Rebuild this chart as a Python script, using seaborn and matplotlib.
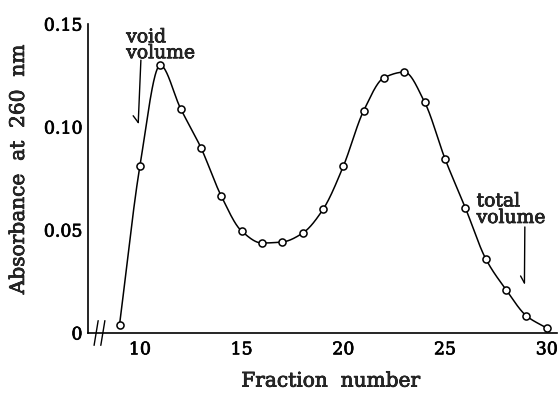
import numpy as np
import matplotlib
matplotlib.use("Agg")
import matplotlib.pyplot as plt
import matplotlib.patheffects as pe
import seaborn as sns
import pandas as pd

fractions = [9, 10, 11, 12, 13, 14, 15, 16, 17, 18, 19, 20, 21, 22, 23, 24, 25, 26, 27, 28, 29, 30]
absorbance = [0.004, 0.081, 0.130, 0.109, 0.090, 0.0665, 0.0495, 0.0437, 0.0442, 0.0485, 0.060,
              0.081, 0.108, 0.124, 0.1267, 0.112, 0.0845, 0.0607, 0.036, 0.021, 0.0083, 0.0024]
yticks = [0, 0.05, 0.10, 0.15]
ytick_labels = ["0", "0.05", "0.10", "0.15"]
xticks = [10, 15, 20, 25, 30]


def pchip(x, y, n=40):
    x = np.asarray(x, float)
    y = np.asarray(y, float)
    h = np.diff(x)
    delta = np.diff(y) / h
    m = len(x)
    d = np.zeros(m)
    for k in range(1, m - 1):
        if delta[k - 1] * delta[k] > 0:
            w1 = 2 * h[k] + h[k - 1]
            w2 = h[k] + 2 * h[k - 1]
            d[k] = (w1 + w2) / (w1 / delta[k - 1] + w2 / delta[k])
    d[0] = delta[0]
    d[-1] = delta[-1]
    xs, ys = [], []
    for i in range(m - 1):
        t = np.linspace(0, 1, n, endpoint=(i == m - 2))
        h00 = 2 * t**3 - 3 * t**2 + 1
        h10 = t**3 - 2 * t**2 + t
        h01 = -2 * t**3 + 3 * t**2
        h11 = t**3 - t**2
        xs.append(x[i] + t * h[i])
        ys.append(h00 * y[i] + h10 * h[i] * d[i] + h01 * y[i + 1] + h11 * h[i] * d[i + 1])
    return np.concatenate(xs), np.concatenate(ys)


sns.set_style("white")
plt.rcParams['font.family'] = ['DejaVu Serif']
heavy = [pe.withStroke(linewidth=0.5, foreground="black")]

fig = plt.figure(figsize=(5.59, 3.94), dpi=100)
ax = fig.add_axes([0.1574, 0.1548, 0.839, 0.784])

sx, sy = pchip(fractions, absorbance)
curve = pd.DataFrame({"x": sx, "y": sy})
pts = pd.DataFrame({"Fraction": fractions, "Absorbance": absorbance})
sns.lineplot(data=curve, x="x", y="y", ax=ax, color="black", linewidth=1.1, sort=False)
sns.scatterplot(data=pts, x="Fraction", y="Absorbance", ax=ax, marker="o", s=26,
                facecolor="white", edgecolor="black", linewidth=1.1, zorder=3)

ax.set_xlim(7.45, 30.5)
ax.set_ylim(0, 0.15)
ax.set_xticks(xticks)
ax.set_yticks(yticks)
ax.set_yticklabels(ytick_labels)
ax.tick_params(direction="in", length=3, width=1, labelsize=12.5, colors="black")
ax.tick_params(axis="x", pad=6)
ax.tick_params(axis="y", pad=4)
for s in ["top", "right"]:
    ax.spines[s].set_visible(False)
for s in ["left", "bottom"]:
    ax.spines[s].set_color("black")
    ax.spines[s].set_linewidth(1.2)

ax.set_xlabel("Fraction  number", fontsize=14.5)
ax.set_ylabel("Absorbance  at  260  nm", fontsize=14.5)
ax.xaxis.set_label_coords(0.518, -0.125)
ax.yaxis.set_label_coords(-0.128, 0.53)

for t in ax.get_xticklabels() + ax.get_yticklabels() + [ax.xaxis.label, ax.yaxis.label]:
    t.set_path_effects(heavy)

# axis break marks
for dx in (0.0, 0.33):
    ax.plot([7.75 + dx, 7.95 + dx], [-0.006, 0.006], color="black", lw=1.0, clip_on=False)

# half-barbed arrows
ax.plot([10.05, 9.92], [0.1325, 0.1022], color="black", lw=1.0)
ax.plot([9.67, 9.92], [0.1055, 0.1022], color="black", lw=1.0)
ax.plot([28.92, 28.90], [0.0515, 0.0243], color="black", lw=1.0)
ax.plot([28.71, 28.90], [0.0277, 0.0243], color="black", lw=1.0)

ax.text(9.33, 0.1315, "void\nvolume", fontsize=13.5, ha="left", va="bottom", linespacing=0.85,
        path_effects=heavy)
ax.text(26.55, 0.0515, "total\nvolume", fontsize=13.5, ha="left", va="bottom", linespacing=0.9,
        path_effects=heavy)

fig.savefig("out.png", dpi=100)
